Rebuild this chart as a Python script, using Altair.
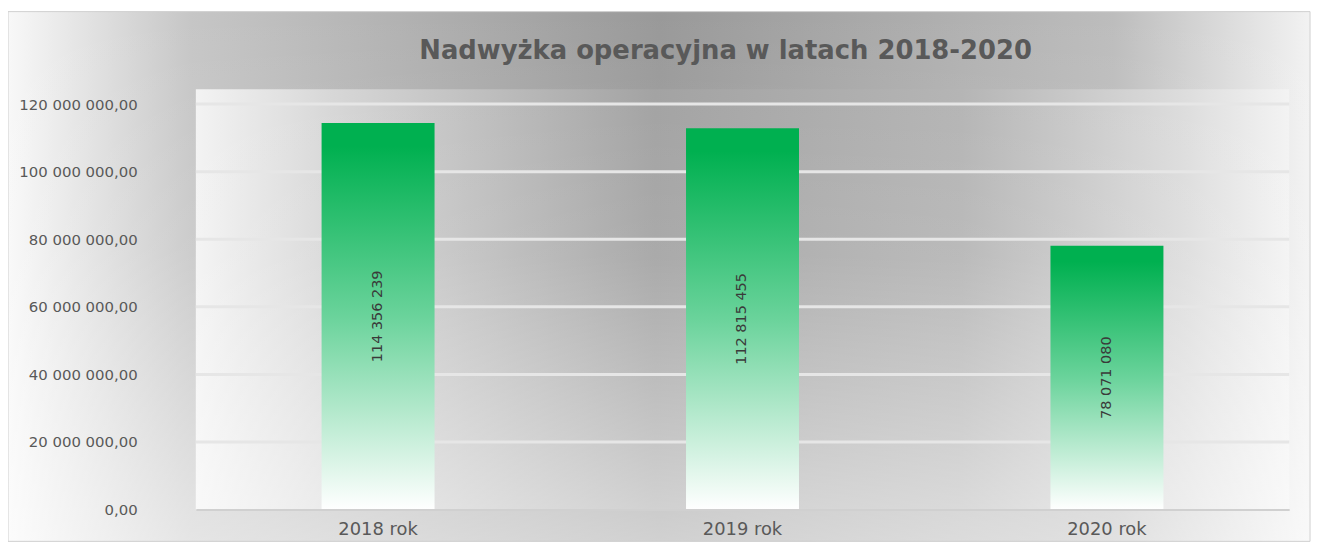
import altair as alt
import pandas as pd

# ---- data ----
years = ["2018 rok", "2019 rok", "2020 rok"]
values = [114356239, 112815455, 78071080]
value_labels = ["114 356 239", "112 815 455", "78 071 080"]
y_ticks = [0, 20000000, 40000000, 60000000, 80000000, 100000000, 120000000]
title_text = "Nadwyżka operacyjna w latach 2018-2020"

df = pd.DataFrame({"rok": years, "wartosc": values, "etykieta": value_labels})
grid_df = pd.DataFrame({"tick": y_ticks[1:]})
one = pd.DataFrame({"k": [0]})
title_df = pd.DataFrame({"t": [title_text]})

W, H = 1100, 408
PAD = {"left": 189, "top": 95, "right": 27, "bottom": 32}

y_scale = alt.Scale(domain=[0, 120000000], nice=False)
x_scale = alt.Scale(paddingInner=0.69, paddingOuter=0.345)


def lin(stops, vertical=False):
    return alt.Gradient(
        gradient="linear", x1=0, y1=0, x2=0 if vertical else 1, y2=1 if vertical else 0,
        stops=[alt.GradientStop(color=c, offset=o) for o, c in stops])


outer_h = lin([(0, "#f8f8f8"), (0.14, "#c6c6c6"), (0.5, "#999999"),
               (0.85, "#bdbdbd"), (1, "#f2f2f2")])
outer_v = lin([(0, "rgba(255,255,255,0)"), (0.45, "rgba(255,255,255,0.12)"),
               (1, "rgba(255,255,255,0.55)")], vertical=True)
plot_h = lin([(0, "#f3f3f3"), (0.12, "#d8d8d8"), (0.42, "#a3a3a3"),
              (0.7, "#b5b5b5"), (0.9, "#dcdcdc"), (1, "#f3f3f3")])
plot_v = lin([(0, "rgba(255,255,255,0)"), (0.4, "rgba(255,255,255,0.08)"),
              (1, "rgba(255,255,255,0.5)")], vertical=True)

bar_grad = lin([(0, "#00b050"), (0.06, "#00b050"), (0.5, "#6ad39b"), (1, "#ffffff")],
               vertical=True)


def bg_rect(fill, x, x2, y, y2, **kw):
    return alt.Chart(one).mark_rect(fill=fill, **kw).encode(
        x=alt.value(x), x2=alt.value(x2), y=alt.value(y), y2=alt.value(y2))


ox, ox2, oy, oy2 = -PAD["left"], W + 21, -93, H + PAD["bottom"]
outer_bg = bg_rect(outer_h, ox, ox2, oy, oy2)
outer_ov = bg_rect(outer_v, ox, ox2, oy, oy2, stroke="#d0d0d0", strokeWidth=1)
plot_bg = bg_rect(plot_h, 0, W, -15, H)
plot_ov = bg_rect(plot_v, 0, W, -15, H)

grid = alt.Chart(grid_df).mark_rule(color="#e6e6e6", strokeWidth=3).encode(
    y=alt.Y("tick:Q", scale=y_scale), x=alt.value(0), x2=alt.value(W))

bars = alt.Chart(df).mark_bar(fill=bar_grad).encode(
    x=alt.X("rok:N", scale=x_scale, sort=years,
            axis=alt.Axis(title=None, labelAngle=0, ticks=False, labelFontSize=18,
                          labelColor="#595959", labelFont="DejaVu Sans", labelPadding=11,
                          domainColor="#d0d0d0", domainWidth=2, zindex=1)),
    y=alt.Y("wartosc:Q", scale=y_scale,
            axis=alt.Axis(title=None, values=y_ticks, grid=False, ticks=False, domain=False,
                          labelFontSize=15, labelColor="#595959", labelFont="DejaVu Sans",
                          labelPadding=59, zindex=1,
                          labelExpr="replace(replace(format(datum.value, ',.2f'), regexp(',', 'g'), ' '), '.', ',')")))

text = alt.Chart(df).transform_calculate(pol="datum.wartosc / 2").mark_text(
    angle=270, font="DejaVu Sans", fontSize=14.5, color="#3a3a3a",
    align="center", baseline="middle").encode(
    x=alt.X("rok:N", scale=x_scale, sort=years),
    y=alt.Y("pol:Q", scale=y_scale),
    text="etykieta:N")

title = alt.Chart(title_df).mark_text(
    font="DejaVu Sans", fontSize=26, fontWeight="bold", color="#595959",
    align="center", baseline="alphabetic").encode(
    x=alt.value(533), y=alt.value(-45), text="t:N")

chart = alt.layer(outer_bg, outer_ov, plot_bg, plot_ov, grid, bars, text, title).properties(
    width=W, height=H,
    autosize=alt.AutoSizeParams(type="none"),
    padding=PAD,
    background="white",
).configure_view(stroke=None)

chart.save("out.html", embed_options={"renderer": "svg", "actions": False})
